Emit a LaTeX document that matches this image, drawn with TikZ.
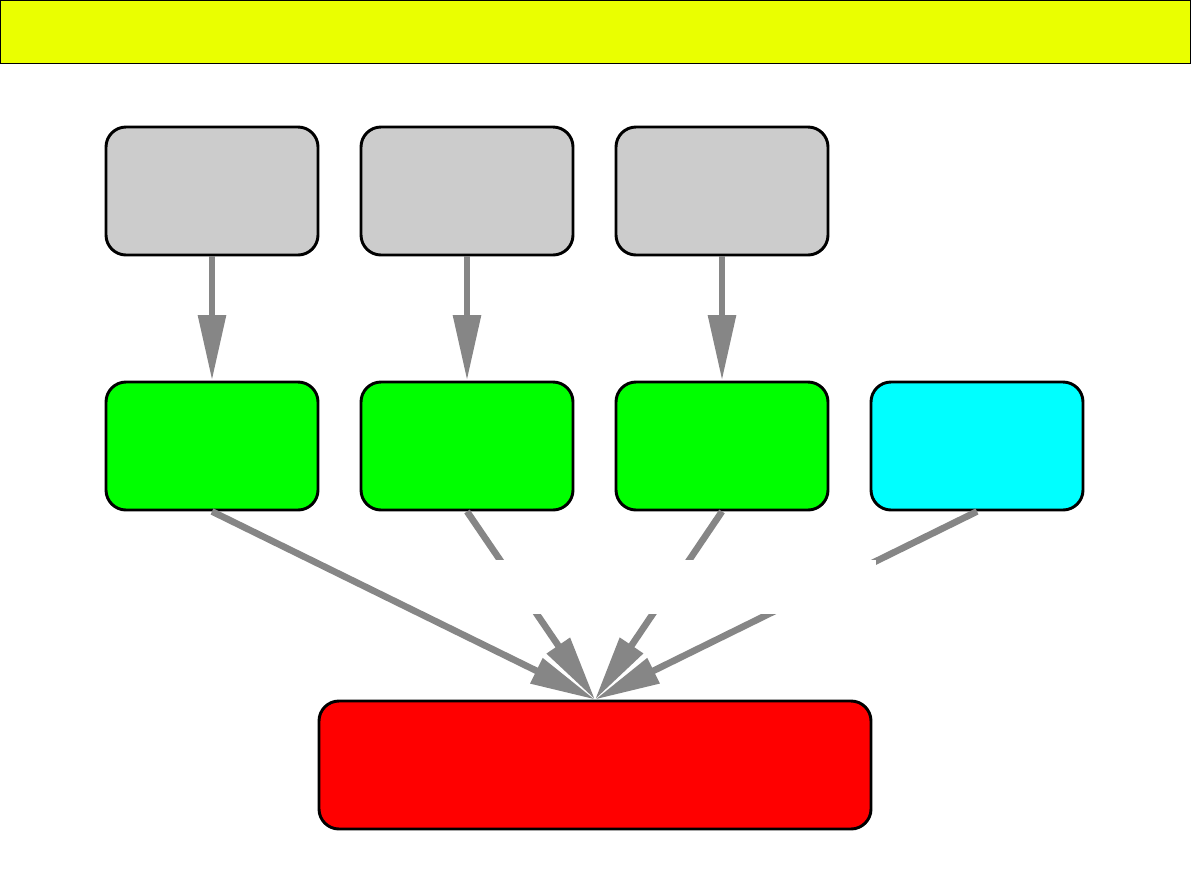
\documentclass[tikz,border=0pt]{standalone}
\usetikzlibrary{arrows.meta}
\begin{document}
\begin{tikzpicture}[x=0.75pt,y=-0.75pt,
  box/.style={draw=black,line width=2.2pt,rounded corners=15pt,minimum width=159pt,minimum height=96pt,inner sep=0pt},
  conn/.style={draw=gray!95,line width=5pt,-{Triangle[length=49pt,width=20pt]}}]
\useasboundingbox (0,0) rectangle (1191,893);
\node[draw=black,line width=0.6pt,fill={rgb,255:red,234;green,255;blue,0},minimum width=893pt,minimum height=47pt,inner sep=0pt] (title) at (595.5,32) {};
\node[box,fill={rgb,255:red,204;green,204;blue,204}] (g1) at (212,191) {};
\node[box,fill={rgb,255:red,204;green,204;blue,204}] (g2) at (467,191) {};
\node[box,fill={rgb,255:red,204;green,204;blue,204}] (g3) at (722,191) {};
\node[box,fill={rgb,255:red,0;green,255;blue,0}] (n1) at (212,446) {};
\node[box,fill={rgb,255:red,0;green,255;blue,0}] (n2) at (467,446) {};
\node[box,fill={rgb,255:red,0;green,255;blue,0}] (n3) at (722,446) {};
\node[box,fill={rgb,255:red,0;green,255;blue,255}] (n4) at (977,446) {};
\node[box,fill=red,minimum width=414pt] (r) at (595,765) {};
\draw[conn] (g1.south) -- (n1.north);
\draw[conn] (g2.south) -- (n2.north);
\draw[conn] (g3.south) -- (n3.north);
\draw[conn] (n1.south) -- (r.north);
\draw[conn] (n2.south) -- (r.north);
\draw[conn] (n3.south) -- (r.north);
\draw[conn] (n4.south) -- (r.north);
\node[fill=white,minimum width=290pt,minimum height=40pt,inner sep=0pt] (gap) at (683,587) {};
\end{tikzpicture}
\end{document}
